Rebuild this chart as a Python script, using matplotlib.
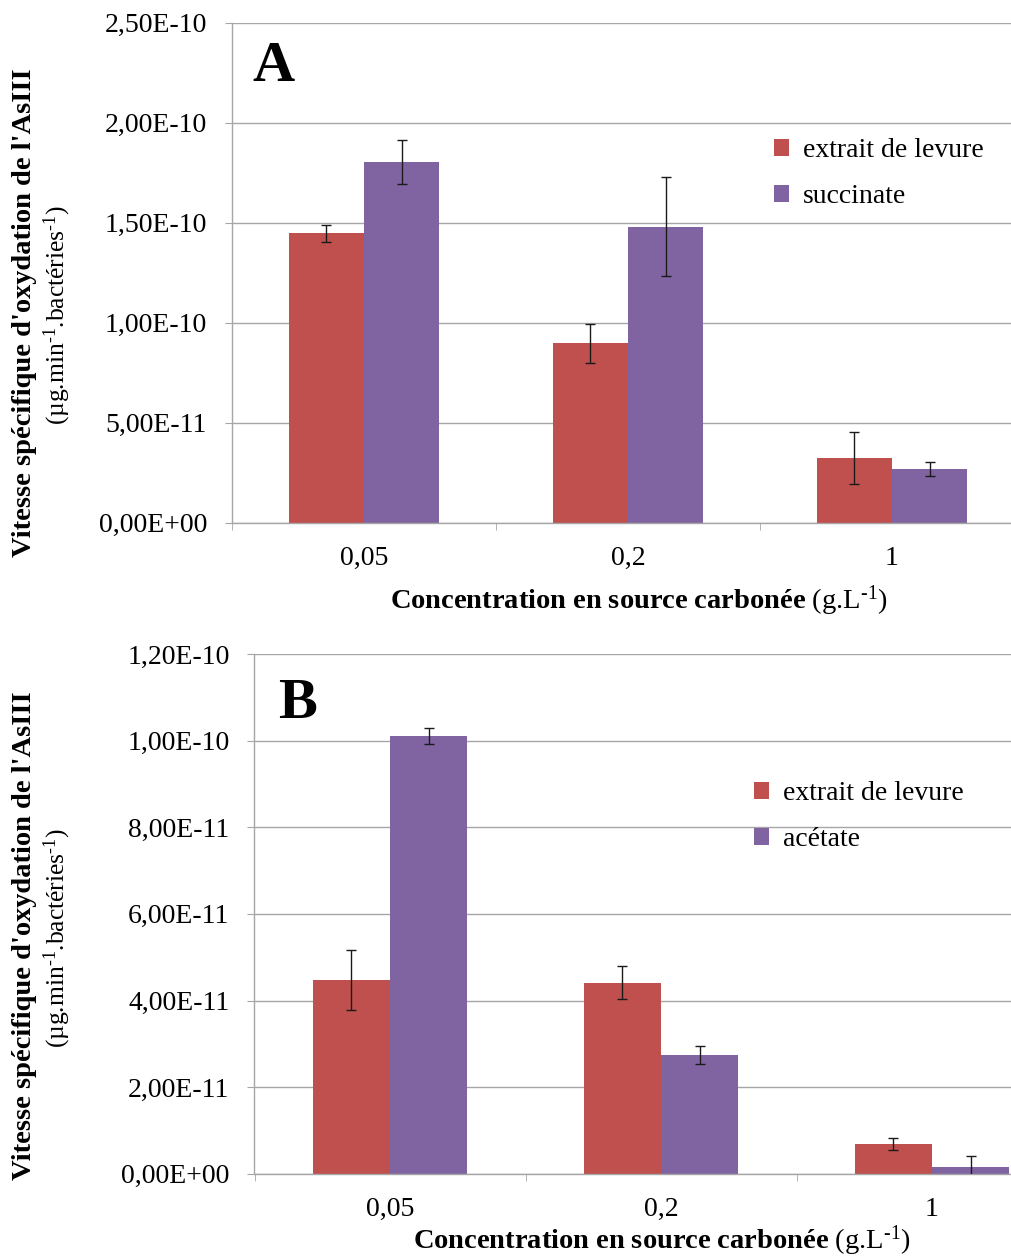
import matplotlib
matplotlib.use("Agg")
import matplotlib.pyplot as plt
from matplotlib.patches import Patch
from matplotlib.ticker import FuncFormatter, FixedLocator
import numpy as np

plt.rcParams['font.family'] = ['Liberation Serif', 'DejaVu Serif']
plt.rcParams['mathtext.fontset'] = 'custom'
plt.rcParams['mathtext.rm'] = 'Liberation Serif'
plt.rcParams['mathtext.bf'] = 'Liberation Serif:bold'
plt.rcParams['mathtext.it'] = 'Liberation Serif:italic'

# concentrations (g/L)
concentrations = ['0,05', '0,2', '1']

# panel A: yeast extract vs succinate
levure_A = [1.447e-10, 0.897e-10, 0.322e-10]
levure_A_err = [0.043e-10, 0.0975e-10, 0.13e-10]
succinate = [1.803e-10, 1.48e-10, 0.268e-10]
succinate_err = [0.11e-10, 0.248e-10, 0.036e-10]

# panel B: yeast extract vs acetate
levure_B = [0.447e-10, 0.441e-10, 0.069e-10]
levure_B_err = [0.07e-10, 0.038e-10, 0.014e-10]
acetate = [1.011e-10, 0.274e-10, 0.0155e-10]
acetate_err = [0.018e-10, 0.0205e-10, 0.025e-10]

RED = '#C0504D'
PURPLE = '#8064A2'
GRID = '#a6a6a6'

W, H = 1012, 1259
fig = plt.figure(figsize=(W / 100, H / 100), dpi=100)


def sci_fmt(v, pos):
    return f"{v:.2E}".replace('.', ',')


def draw_panel(rect, s1, e1, s2, e2, names, ymax, ystep, letter, letter_xy, leg_xy):
    ax = fig.add_axes(rect)
    x = np.arange(len(concentrations))
    w = 1 / 3.5
    ax.bar(x - w / 2, s1, w, color=RED, zorder=2)
    ax.bar(x + w / 2, s2, w, color=PURPLE, zorder=2)
    ax.errorbar(x - w / 2, s1, yerr=e1, fmt='none', ecolor='#1a1a1a',
                elinewidth=1, capsize=3.5, capthick=1, zorder=3)
    ax.errorbar(x + w / 2, s2, yerr=e2, fmt='none', ecolor='#1a1a1a',
                elinewidth=1, capsize=3.5, capthick=1, zorder=3)

    ax.set_xlim(-0.5, len(concentrations) - 0.5)
    ax.set_ylim(0, ymax)
    ax.set_yticks(np.arange(0, ymax + ystep / 2, ystep))
    ax.yaxis.set_major_formatter(FuncFormatter(sci_fmt))
    ax.set_xticks(x)
    ax.set_xticklabels(concentrations)
    ax.xaxis.set_minor_locator(FixedLocator(np.arange(-0.5, len(concentrations), 1.0)))

    ax.grid(axis='y', color=GRID, linewidth=1, zorder=0)
    ax.set_axisbelow(True)
    for side in ('top', 'right'):
        ax.spines[side].set_visible(False)
    for side in ('left', 'bottom'):
        ax.spines[side].set_color(GRID)
        ax.spines[side].set_linewidth(1)

    ax.tick_params(axis='y', which='major', length=5, color=GRID, pad=13, labelsize=20)
    ax.tick_params(axis='x', which='major', length=0, pad=17, labelsize=20)
    ax.tick_params(axis='x', which='minor', length=5, color=GRID)

    fig.text(letter_xy[0] / W, 1 - letter_xy[1] / H, letter, fontsize=42,
             fontweight='bold', ha='left', va='baseline')

    handles = [Patch(facecolor=RED, edgecolor='none', label=names[0]),
               Patch(facecolor=PURPLE, edgecolor='none', label=names[1])]
    fig.legend(handles=handles, loc='upper left',
               bbox_to_anchor=(leg_xy[0] / W, 1 - leg_xy[1] / H),
               frameon=False, fontsize=20, handlelength=0.55, handleheight=0.55,
               handletextpad=0.5, labelspacing=0.77, borderpad=0, borderaxespad=0)
    return ax


# panel A
draw_panel([232 / W, 1 - 522.7 / H, 792 / W, 500 / H],
           levure_A, levure_A_err, succinate, succinate_err,
           ['extrait de levure', 'succinate'], 2.5e-10, 0.5e-10,
           'A', (252, 81), (774, 138))

# panel B
draw_panel([254.5 / W, 1 - 1173.7 / H, 813 / W, 519.6 / H],
           levure_B, levure_B_err, acetate, acetate_err,
           ['extrait de levure', 'acétate'], 1.2e-10, 0.2e-10,
           'B', (278, 718), (754, 781))

ylab_bold = "Vitesse spécifique d'oxydation de l'AsIII"
ylab_unit = r"(µg.min$^{\text{-}1}$.bactéries$^{\text{-}1}$)"
xlab = r"$\mathbf{Concentration\ en\ source\ carbonée}$ (g.L$^{\text{-}1}$)"

for yc in (313, 936):
    fig.text(25 / W, 1 - yc / H, ylab_bold, rotation=90, fontsize=20.5,
             fontweight='bold', ha='center', va='center')
    fig.text(57 / W, 1 - (yc + 2) / H, ylab_unit, rotation=90, fontsize=18.4,
             ha='center', va='center')

fig.text(639 / W, 1 - 601 / H, xlab, fontsize=20.5, ha='center', va='center')
fig.text(662 / W, 1 - 1241 / H, xlab, fontsize=20.5, ha='center', va='center')

fig.savefig('out.png', dpi=100, facecolor='white')
